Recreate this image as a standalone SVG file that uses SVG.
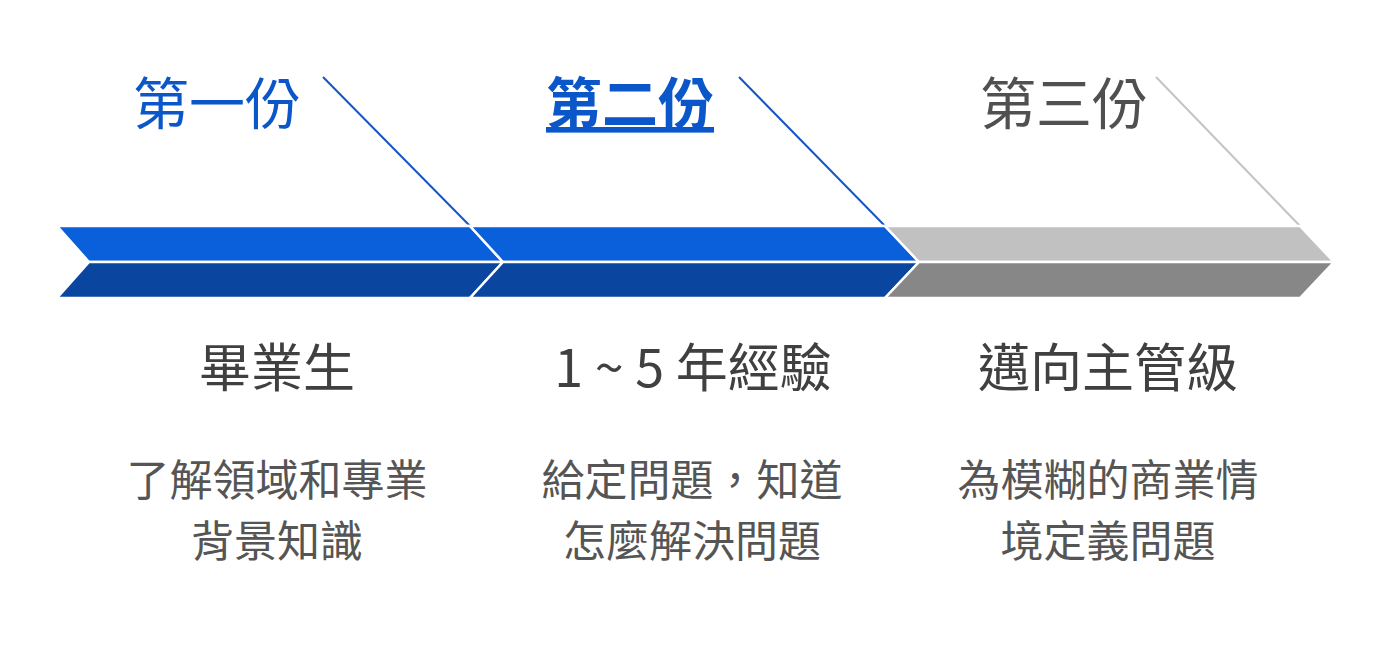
<svg xmlns="http://www.w3.org/2000/svg" width="1400" height="649" viewBox="0 0 1400 649">
<style>
.t{font-family:"Noto Sans CJK TC","Noto Sans CJK SC",sans-serif;text-anchor:middle}
.h{font-size:56px}
.s{font-size:52px;fill:#404040}
.d{font-size:43px;fill:#555555}
.seg{stroke:#ffffff;stroke-width:2.5;stroke-linejoin:miter}
.bt{fill:#0a5fdb}.bb{fill:#0a46a0}
.gt{fill:#c1c1c1}.gb{fill:#878787}
</style>
<rect width="1400" height="649" fill="#ffffff"/>
<g id="connectors">
<line x1="323" y1="77" x2="470" y2="226" stroke="#1456c6" stroke-width="2"/>
<line x1="739" y1="77" x2="885" y2="226" stroke="#1456c6" stroke-width="2"/>
<line x1="1156" y1="77" x2="1300" y2="226" stroke="#c4c4c4" stroke-width="2"/>
</g>
<g id="stage1">
<polygon class="seg bt" points="57,226 470,226 503,262 89,262"/>
<polygon class="seg bb" points="89,262 503,262 470,298 57,298"/>
<text class="t h" x="217" y="124" fill="#0b56c8">第一份</text>
<text class="t s" x="277" y="387">畢業生</text>
<text class="t d" x="277" y="496">了解領域和專業</text>
<text class="t d" x="277" y="557">背景知識</text>
</g>
<g id="stage2">
<polygon class="seg bt" points="470,226 885,226 919,262 503,262"/>
<polygon class="seg bb" points="503,262 919,262 885,298 470,298"/>
<text class="t h" x="630" y="124" fill="#0b56c8" font-weight="bold" text-decoration="underline">第二份</text>
<text class="t s" x="693" y="387">1 ~ 5 年經驗</text>
<text class="t d" x="692" y="496">給定問題，知道</text>
<text class="t d" x="692" y="557">怎麼解決問題</text>
</g>
<g id="stage3">
<polygon class="seg gt" points="885,226 1300,226 1334,262 919,262"/>
<polygon class="seg gb" points="919,262 1334,262 1300,298 885,298"/>
<text class="t h" x="1064" y="124" fill="#505050">第三份</text>
<text class="t s" x="1108" y="387">邁向主管級</text>
<text class="t d" x="1108" y="496">為模糊的商業情</text>
<text class="t d" x="1108" y="557">境定義問題</text>
</g>
</svg>
